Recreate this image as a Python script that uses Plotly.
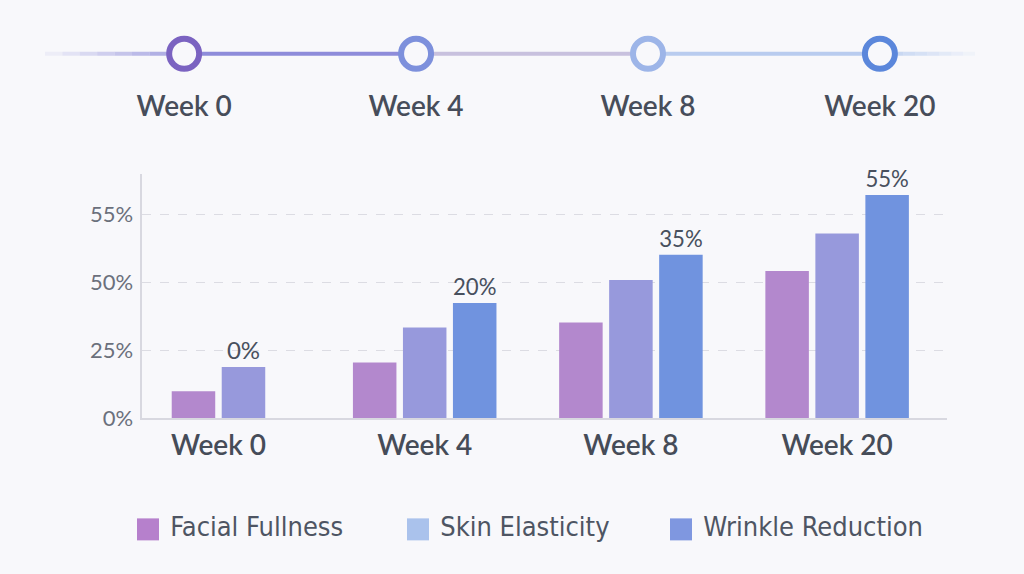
import plotly.graph_objects as go

# ---------------- data ----------------
weeks = ["Week 0", "Week 4", "Week 8", "Week 20"]
series_names = ["Facial Fullness", "Skin Elasticity", "Wrinkle Reduction"]
facial_fullness = [10.0, 20.6, 35.3, 54.2]
skin_elasticity = [18.9, 33.4, 50.9, 68.0]
wrinkle_reduction = [None, 42.4, 60.2, 82.1]
labels_elasticity = ["0%", "", "", ""]
labels_wrinkle = ["", "20%", "35%", "55%"]
y_tickvals = [0, 25, 50, 75]
y_ticktext = ["0%", "25%", "50%", "55%"]

# ---------------- style ----------------
bar_colors = ["#b388cd", "#9799dc", "#7093df"]
legend_colors = ["#b680cc", "#aac2ec", "#7f97e0"]
timeline_ring_colors = ["#7b63c1", "#7d90dc", "#9db5e8", "#5b87db"]
timeline_seg_colors = ["#8e8cda", "#c8c1de", "#b9ccef"]
BG = "#f8f8fb"
FONT = "Lato, 'Noto Sans', sans-serif"
NARROW = "'Liberation Sans Narrow', 'DejaVu Sans Condensed', 'Roboto Condensed', sans-serif"
BAR_W = 0.211
BAR_STEP = 0.2425

series = [facial_fullness, skin_elasticity, wrinkle_reduction]
series_labels = [None, labels_elasticity, labels_wrinkle]

# offsets so that each week's present bars are centred on the category
offsets = [[0.0] * len(weeks) for _ in series]
for j in range(len(weeks)):
    present = [k for k in range(len(series)) if series[k][j] is not None]
    n = len(present)
    for r, k in enumerate(present):
        offsets[k][j] = (r - (n - 1) / 2) * BAR_STEP - BAR_W / 2

fig = go.Figure()

for k, name in enumerate(series_names):
    fig.add_trace(go.Bar(
        x=weeks, y=series[k], name=name,
        width=BAR_W, offset=offsets[k],
        marker=dict(color=bar_colors[k], line=dict(width=0)),
        text=series_labels[k] if series_labels[k] else None,
        textposition="outside", cliponaxis=False,
        textfont=dict(family=FONT, size=24, color="#48505e"),
        showlegend=False, hoverinfo="skip",
        xaxis="x", yaxis="y",
    ))

# ---------------- timeline (top) ----------------
tl_x = list(range(len(weeks)))
LINE_Y = 0.39
LABEL_Y = -0.62
x_left, x_right = -0.6, 3.41


def hex_rgba(h, a):
    h = h.lstrip("#")
    return f"rgba({int(h[0:2],16)},{int(h[2:4],16)},{int(h[4:6],16)},{a})"

# faded ends
nfade = 8
for i in range(nfade):
    xa = x_left + (tl_x[0] - x_left) * i / nfade
    xb = x_left + (tl_x[0] - x_left) * (i + 1) / nfade
    fig.add_trace(go.Scatter(x=[xa, xb], y=[LINE_Y, LINE_Y], mode="lines",
                             line=dict(color=hex_rgba("#9d9cde", (i + 1) / nfade * 0.9), width=4),
                             showlegend=False, hoverinfo="skip", xaxis="x2", yaxis="y2"))
    xa = tl_x[-1] + (x_right - tl_x[-1]) * i / nfade
    xb = tl_x[-1] + (x_right - tl_x[-1]) * (i + 1) / nfade
    fig.add_trace(go.Scatter(x=[xa, xb], y=[LINE_Y, LINE_Y], mode="lines",
                             line=dict(color=hex_rgba("#bccff0", (nfade - i) / nfade * 0.9), width=4),
                             showlegend=False, hoverinfo="skip", xaxis="x2", yaxis="y2"))
for i in range(len(tl_x) - 1):
    fig.add_trace(go.Scatter(x=[tl_x[i], tl_x[i + 1]], y=[LINE_Y, LINE_Y], mode="lines",
                             line=dict(color=timeline_seg_colors[i], width=4),
                             showlegend=False, hoverinfo="skip", xaxis="x2", yaxis="y2"))

fig.add_trace(go.Scatter(
    x=tl_x, y=[LINE_Y] * len(tl_x), mode="markers",
    marker=dict(size=30, color=BG, line=dict(color=timeline_ring_colors, width=6)),
    showlegend=False, hoverinfo="skip", xaxis="x2", yaxis="y2"))
fig.add_trace(go.Scatter(
    x=tl_x, y=[LABEL_Y] * len(tl_x), mode="text", text=weeks,
    textfont=dict(family=FONT, size=28, color="#474d5a", weight=600),
    showlegend=False, hoverinfo="skip", xaxis="x2", yaxis="y2"))

# ---------------- legend (bottom, drawn on its own axis) ----------------
legend_x = [148, 418, 681]
fig.add_trace(go.Scatter(
    x=legend_x, y=[0] * 3, mode="markers",
    marker=dict(symbol="square", size=22, color=legend_colors, line=dict(width=0)),
    showlegend=False, hoverinfo="skip", xaxis="x3", yaxis="y3"))
fig.add_trace(go.Scatter(
    x=legend_x, y=[0] * 3, mode="markers+text", text=series_names,
    textposition="middle right",
    marker=dict(symbol="square", size=34, color="rgba(0,0,0,0)", line=dict(width=0)),
    textfont=dict(family=NARROW, size=27, color="#4e5563"),
    showlegend=False, hoverinfo="skip", xaxis="x3", yaxis="y3"))

fig.update_layout(
    width=1024, height=587,
    paper_bgcolor=BG, plot_bgcolor=BG,
    margin=dict(l=45, r=49, t=20, b=15),
    barmode="overlay",
    font=dict(family=FONT),
    xaxis=dict(domain=[0.1046, 0.9696], type="category", categoryorder="array",
               categoryarray=weeks, range=[-0.3695, 3.5315],
               showline=True, linecolor="#d8d8e0", linewidth=1.5,
               showgrid=False, ticks="", ticklabelstandoff=1,
               tickfont=dict(family=FONT, size=28, color="#464c58", weight=600),
               fixedrange=True),
    yaxis=dict(domain=[0.2648, 0.7167], range=[0, 90],
               tickvals=y_tickvals, ticktext=y_ticktext,
               showline=True, linecolor="#d8d8e0", linewidth=1.5,
               showgrid=True, gridcolor="#dcdce3", griddash="dash", gridwidth=1,
               zeroline=False, ticks="", ticklabelstandoff=3,
               tickfont=dict(family=FONT, size=22, color="#6b707c"),
               fixedrange=True),
    xaxis2=dict(domain=[0, 1], range=[x_left, x_right], visible=False, fixedrange=True),
    yaxis2=dict(domain=[0.7963, 1], range=[-1, 1], visible=False, fixedrange=True),
    xaxis3=dict(domain=[0, 1], range=[45, 975], visible=False, fixedrange=True),
    yaxis3=dict(domain=[0.00926, 0.1111], range=[-1, 1], visible=False, fixedrange=True),
)

page_fix = """
var h=document.documentElement.style; h.margin='0'; h.padding='0'; h.overflow='hidden';
var b=document.body.style; b.margin='0'; b.padding='0'; b.overflow='hidden'; b.background='#f8f8fb';
"""
fig.write_html("out.html", config={"displayModeBar": False}, post_script=page_fix)
